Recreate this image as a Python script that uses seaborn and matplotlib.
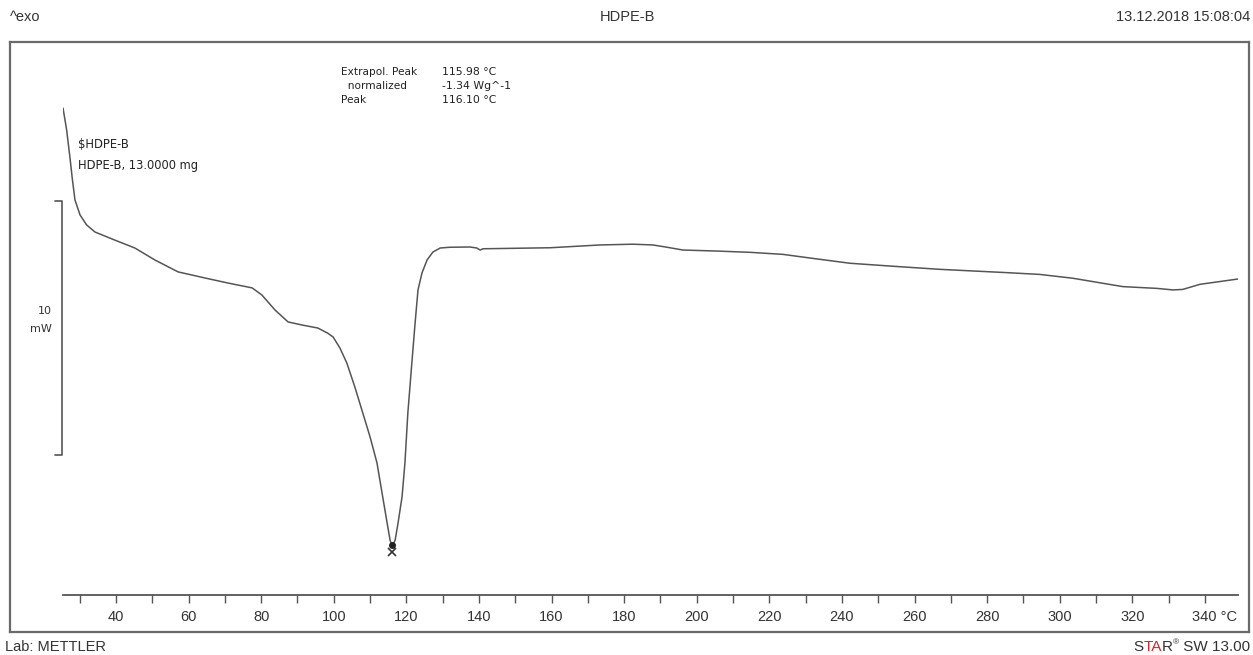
import numpy as np
import pandas as pd
import matplotlib
matplotlib.use("Agg")
import matplotlib.pyplot as plt
import matplotlib.transforms as mtransforms
import seaborn as sns

# ---- data (temperature in °C, heat flow in mW, arbitrary offset)
temperature = [25.4, 26.4, 27.3, 28.0, 28.7, 30.1, 31.9, 34.2, 39.7, 45.2, 50.7, 57.1,
               64.5, 70.9, 77.5, 80.2, 83.8, 87.4, 91.2, 95.6, 98.3, 99.8, 101.7, 103.6,
               105.8, 108.0, 110.0, 111.9, 113.3, 114.7, 115.5, 116.1, 116.9, 117.7,
               118.8, 119.6, 120.4, 121.5, 122.4, 123.2, 124.3, 125.7, 127.3, 129.3,
               132.0, 137.5, 139.4, 140.3, 141.1, 159.6, 173.3, 182.4, 187.9, 191.8,
               196.2, 205.6, 214.7, 223.7, 233.1, 242.2, 253.2, 267.0, 285.5, 294.5,
               303.6, 311.1, 317.4, 326.8, 331.2, 333.9, 338.6, 349.1]
heat_flow = [5.51, 4.65, 3.58, 2.68, 1.89, 1.30, 0.91, 0.63, 0.31, 0.00, -0.47, -0.94,
             -1.18, -1.38, -1.57, -1.85, -2.44, -2.91, -3.03, -3.15, -3.35, -3.50, -3.94, -4.53,
             -5.47, -6.50, -7.44, -8.46, -9.65, -10.83, -11.50, -11.75, -11.50, -10.83,
             -9.80, -8.46, -6.50, -4.53, -2.95, -1.65, -0.98, -0.47, -0.16, 0.00,
             0.03, 0.04, 0.00, -0.08, -0.03, 0.01, 0.12, 0.15, 0.12, 0.03,
             -0.08, -0.12, -0.17, -0.25, -0.43, -0.60, -0.71, -0.84, -0.97, -1.04,
             -1.19, -1.37, -1.52, -1.59, -1.65, -1.63, -1.43, -1.22]
peak_temp = 116.1
peak_hf = -11.75
tick_major = list(range(40, 341, 20))
tick_minor = list(range(30, 341, 10))
tick_labels = [str(t) for t in tick_major[:-1]] + ["340 °C"]
scale_top = 1.85
scale_len = 10
annot_labels = ["Extrapol. Peak", "  normalized", "Peak"]
annot_values = ["115.98 °C", "-1.34 Wg^-1", "116.10 °C"]

df = pd.DataFrame({"T": temperature, "HF": heat_flow})

sns.set_theme(style="white")
plt.rcParams["font.family"] = ["Liberation Sans", "DejaVu Sans"]

W, H = 1253, 655
fig = plt.figure(figsize=(W / 100, H / 100), dpi=100)
fig.patch.set_facecolor("white")

def fx(px):
    return px / W

def fy(py):
    return 1 - py / H

# outer frame
axf = fig.add_axes([fx(10), fy(632), fx(1249) - fx(10), fy(42) - fy(632)])
axf.set_xticks([]); axf.set_yticks([])
for s in axf.spines.values():
    s.set_color("#6a6a6a"); s.set_linewidth(1.6)
axf.set_facecolor("white")

# data axes
ax = fig.add_axes([fx(63), fy(595), fx(1238) - fx(63), fy(42) - fy(595)])
ax.patch.set_alpha(0)
sns.lineplot(data=df, x="T", y="HF", ax=ax, color="#555555", linewidth=1.1,
             sort=False, estimator=None)
ax.set_xlim(25.4, 349.1)
ax.set_ylim(-13.66, 8.11)
for side in ["top", "right", "left"]:
    ax.spines[side].set_visible(False)
ax.spines["bottom"].set_color("#555555")
ax.spines["bottom"].set_linewidth(1.3)
ax.set_yticks([])
ax.set_xticks(tick_major)
ax.set_xticklabels(tick_labels, fontsize=10.5, color="#333333")
ax.set_xticks(tick_minor, minor=True)
ax.tick_params(axis="x", which="both", direction="out", length=6, width=1,
               color="#555555", pad=5, bottom=True)
ax.set_xlabel(""); ax.set_ylabel("")
last = ax.get_xticklabels()[-1]
last.set_transform(last.get_transform() +
                   mtransforms.ScaledTranslation(10 / 100, 0, fig.dpi_scale_trans))

# peak marker
ax.plot([peak_temp], [peak_hf - 0.2], marker="x", color="#333333", markersize=6,
        mew=1.2, clip_on=False)
ax.plot([peak_temp], [peak_hf + 0.05], marker="o", color="#222222", markersize=4,
        clip_on=False)

# scale bar
tr = ax.get_yaxis_transform()
xb = -0.0009
xt = -0.0068
ax.plot([xt, xb, xb, xt], [scale_top, scale_top, scale_top - scale_len, scale_top - scale_len],
        color="#555555", lw=1.2, transform=tr, clip_on=False)
fig.text(fx(52), fy(311), "10", fontsize=8, family="DejaVu Sans", color="#333333",
         ha="right", va="center")
fig.text(fx(52), fy(329), "mW", fontsize=8, family="DejaVu Sans", color="#333333",
         ha="right", va="center")

# curve annotations
fig.text(fx(78), fy(145), "\\$HDPE-B", fontsize=8.3, family="DejaVu Sans", color="#222222",
         va="center")
fig.text(fx(78), fy(165), "HDPE-B, 13.0000 mg", fontsize=8.3, family="DejaVu Sans",
         color="#222222", va="center")
for i, (l, v) in enumerate(zip(annot_labels, annot_values)):
    yy = 72 + 14 * i
    fig.text(fx(341), fy(yy), l, fontsize=7.6, family="DejaVu Sans", color="#222222",
             va="center")
    fig.text(fx(442), fy(yy), v, fontsize=7.8, family="DejaVu Sans", color="#222222",
             va="center")

# header / footer
fig.text(fx(10), fy(17), "^exo", fontsize=10.5, color="#333333", va="center")
fig.text(fx(627), fy(17), "HDPE-B", fontsize=10.5, color="#333333", va="center", ha="center")
fig.text(fx(1250), fy(17), "13.12.2018 15:08:04", fontsize=10.5, color="#333333",
         va="center", ha="right")
fig.text(fx(5), fy(647), "Lab: METTLER", fontsize=10.5, color="#333333", va="center")

# STAR® SW 13.00 with red "TA"
pieces = [("S", "#333333", 11, 0), ("TA", "#d8252a", 11, 0), ("R", "#333333", 11, 0),
          ("®", "#333333", 6, 4), (" SW 13.00", "#333333", 11, 0)]
renderer = fig.canvas.get_renderer()
widths = []
for s, c, fs, dy in pieces:
    t = fig.text(0, 0, s, fontsize=fs)
    widths.append(t.get_window_extent(renderer).width)
    t.remove()
x0 = 1250 - sum(widths)
for (s, c, fs, dy), w in zip(pieces, widths):
    fig.text(fx(x0), fy(647 - dy), s, fontsize=fs, color=c, va="center")
    x0 += w

fig.savefig("out.png", dpi=100)
